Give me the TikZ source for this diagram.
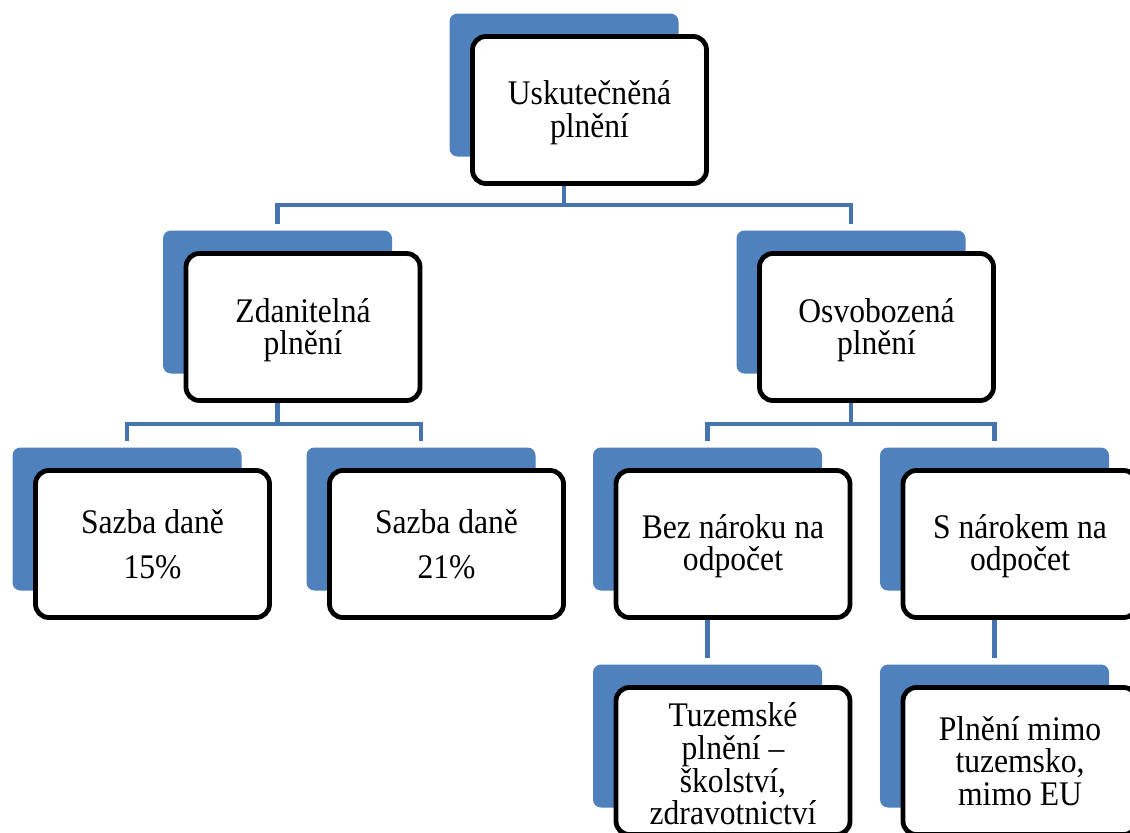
\documentclass[tikz,border=0pt]{standalone}
\usepackage{fontspec}
\setmainfont{Liberation Serif}[FakeStretch=0.915]
\definecolor{shadowblue}{HTML}{4F81BD}
\definecolor{linkblue}{HTML}{4574AE}
\newcommand{\dgfont}{\fontsize{25.9pt}{24.4pt}\selectfont\lineskiplimit=-50pt\relax}
\newcommand{\lowr}[1]{\rule{0pt}{#1}}
\begin{document}
\begin{tikzpicture}[x=0.75pt,y=-0.75pt,
  backbox/.style={fill=shadowblue, draw=none, rounded corners=6pt,
    minimum width=171.75pt, minimum height=107.25pt, inner sep=0pt},
  frontbox/.style={fill=white, draw=black, line width=3.6pt, rounded corners=10pt,
    minimum width=175.5pt, minimum height=110.25pt, inner sep=0pt,
    align=center, font=\dgfont},
  conn/.style={draw=linkblue, line width=3.6pt}]
\clip (0,0) rectangle (1130,832);
\fill[white] (0,0) rectangle (1130,832);

% shadow boxes
\node[backbox] (b0) at (564,85) {};
\node[backbox] (b1) at (277.5,302) {};
\node[backbox] (b2) at (851,302) {};
\node[backbox] (b3) at (127,519) {};
\node[backbox] (b4) at (421,519) {};
\node[backbox] (b5) at (707.5,519) {};
\node[backbox] (b6) at (994.5,519) {};
\node[backbox] (b7) at (707.5,736) {};
\node[backbox] (b8) at (994.5,736) {};

% front boxes
\node[frontbox] (w0) at (589.5,110) {\lowr{22.4pt}Uskutečněná\\plnění};
\node[frontbox] (w1) at (303,327) {\lowr{23.1pt}Zdanitelná\\plnění};
\node[frontbox] (w2) at (876.5,327) {\lowr{23.1pt}Osvobozená\\plnění};
\node[frontbox] (w3) at (152.5,544) {Sazba daně\\[9.4pt]15\%};
\node[frontbox] (w4) at (446.5,544) {Sazba daně\\[9.4pt]21\%};
\node[frontbox] (w5) at (733,544) {\lowr{20.9pt}Bez nároku na\\odpočet};
\node[frontbox] (w6) at (1020,544) {\lowr{20.9pt}S nárokem na\\odpočet};
\node[frontbox] (w7) at (733,761) {\lowr{22.4pt}Tuzemské\\plnění –\\školství,\\zdravotnictví};
\node[frontbox] (w8) at (1020,761) {Plnění mimo\\tuzemsko,\\mimo EU};

% connectors
\coordinate (j0) at (0,205);
\coordinate (j1) at (0,424);
\draw[conn] (b0 |- w0.south) -- (b0 |- j0);
\draw[conn] ([yshift=4.5pt]b1.north) |- (j0 -| b2) -- ([yshift=4.5pt]b2.north);
\draw[conn] (b1 |- w1.south) -- (b1 |- j1);
\draw[conn] ([yshift=4.5pt]b3.north) |- (j1 -| b4) -- ([yshift=4.5pt]b4.north);
\draw[conn] (b2 |- w2.south) -- (b2 |- j1);
\draw[conn] ([yshift=4.5pt]b5.north) |- (j1 -| b6) -- ([yshift=4.5pt]b6.north);
\draw[conn] (b5 |- w5.south) -- ([yshift=4.5pt]b7.north);
\draw[conn] (b6 |- w6.south) -- ([yshift=4.5pt]b8.north);
\end{tikzpicture}
\end{document}
